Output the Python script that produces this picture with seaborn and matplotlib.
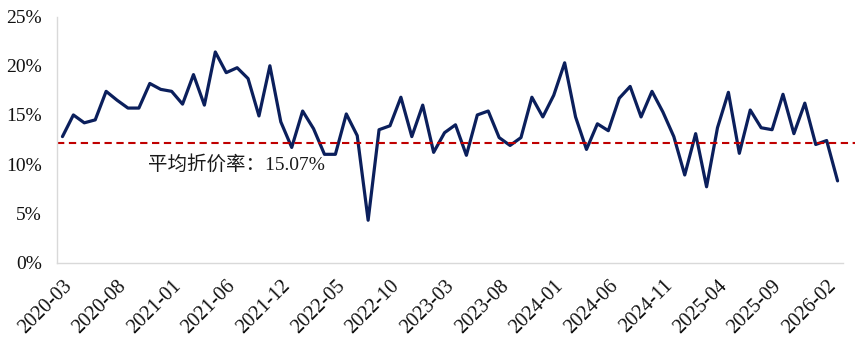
import numpy as np
import pandas as pd
import matplotlib
matplotlib.use("Agg")
import matplotlib.pyplot as plt
from matplotlib.ticker import FuncFormatter
import seaborn as sns

# Monthly discount rate series (%), one month (2021-10) absent from the source
months = (
    [f"2020-{m:02d}" for m in range(3, 13)]
    + [f"2021-{m:02d}" for m in (1, 2, 3, 4, 5, 6, 7, 8, 9, 11, 12)]
    + [f"{y}-{m:02d}" for y in (2022, 2023, 2024, 2025) for m in range(1, 13)]
    + ["2026-01", "2026-02", "2026-03"]
)
discount_rate = [
    12.8, 15.0, 14.2, 14.5, 17.4, 16.5, 15.7, 15.7, 18.2, 17.6,
    17.4, 16.1, 19.1, 16.0, 21.4, 19.3, 19.8, 18.7, 14.9, 20.0,
    14.3, 11.7, 15.4, 13.6, 11.0, 11.0, 15.1, 12.9, 4.3, 13.5,
    13.9, 16.8, 12.8, 16.0, 11.2, 13.2, 14.0, 10.9, 15.0, 15.4,
    12.7, 11.9, 12.7, 16.8, 14.8, 17.0, 20.3, 14.8, 11.5, 14.1,
    13.4, 16.7, 17.9, 14.8, 17.4, 15.3, 12.8, 8.9, 13.1, 7.7,
    13.7, 17.3, 11.1, 15.5, 13.7, 13.5, 17.1, 13.1, 16.2, 12.0,
    12.4, 8.3,
]
ref_level = 12.2
avg_label = "平均折价率：15.07%"
y_ticks = [0, 5, 10, 15, 20, 25]

df = pd.DataFrame({"month": months, "rate": discount_rate})

sns.set_style("white")
plt.rcParams["font.family"] = ["Liberation Serif", "Noto Sans CJK SC"]

fig = plt.figure(figsize=(8.65, 3.45), dpi=100)
ax = fig.add_axes([0.0659, 0.239, 0.9087, 0.713])

sns.lineplot(data=df, x="month", y="rate", sort=False, ax=ax,
             color="#0B1F5C", linewidth=2.3)

ax.axhline(ref_level, xmin=0, xmax=1.015, color="#C00000", linewidth=1.5,
           dashes=(3.5, 2.2), clip_on=False)

ax.text(7.8, 10.0, avg_label, ha="left", va="center", fontsize=14,
        color="#1a1a1a", family=["Liberation Serif", "Noto Sans CJK SC"])

n = len(months)
ax.set_xlim(-0.5, n - 0.5)
ax.set_ylim(0, 25)
ax.set_yticks(y_ticks)
ax.yaxis.set_major_formatter(FuncFormatter(lambda v, _: f"{v:.0f}%"))

tick_pos = list(range(0, n, 5))
ax.set_xticks(tick_pos)
ax.set_xticklabels([months[i] for i in tick_pos], rotation=45, ha="right",
                   rotation_mode="anchor")
ax.set_xticks(np.arange(-0.5, n, 1), minor=True)

ax.tick_params(axis="x", which="major", length=0, pad=10, labelsize=14.5,
               labelcolor="#111111")
ax.tick_params(axis="x", which="minor", length=4, color="#D0D0D0", width=0.8)
ax.tick_params(axis="y", length=0, pad=11, labelsize=14, labelcolor="#111111")

ax.set_xlabel("")
ax.set_ylabel("")
for side in ("top", "right"):
    ax.spines[side].set_visible(False)
for side in ("left", "bottom"):
    ax.spines[side].set_color("#D9D9D9")
    ax.spines[side].set_linewidth(1.0)

fig.savefig("out.png", dpi=100, facecolor="white")
